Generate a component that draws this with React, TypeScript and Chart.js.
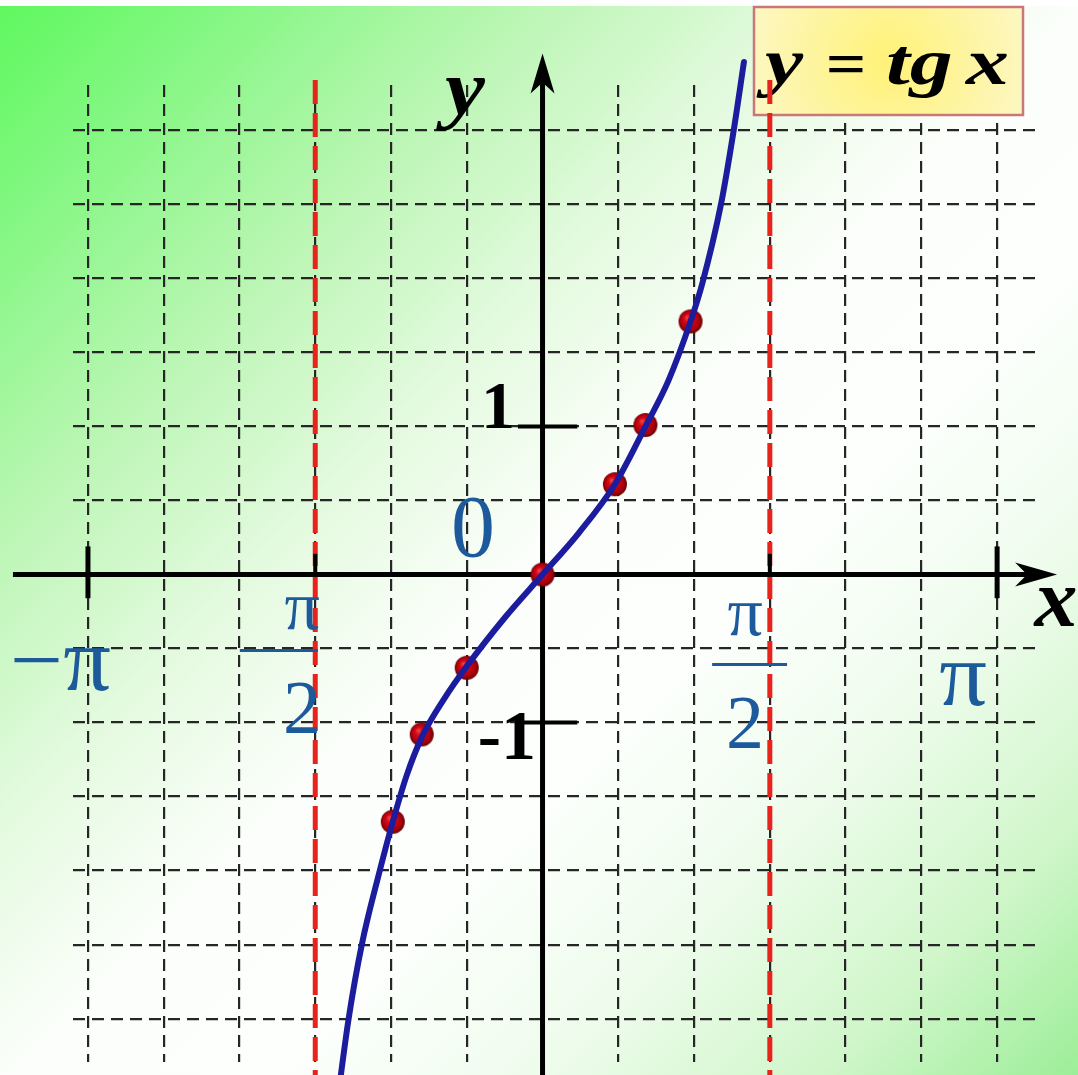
import React, { useEffect, useRef } from 'react';
import { Chart, registerables } from 'chart.js';

Chart.register(...registerables);

const CANVAS_W = 1078;
const CANVAS_H = 1075;

// Axis ranges: x in radians, y in function units
const X_MIN = -3.245;
const X_MAX = 3.438;
const Y_MIN = -3.293;
const Y_MAX = 3.307;

// Grid: every π/6 on x, every 0.5 on y
const xGridTicks = [-3.1416, -2.618, -2.0944, -1.5708, -1.0472, -0.5236, 0, 0.5236, 1.0472, 1.5708, 2.0944, 2.618, 3.1416];
const yGridTicks = [-3, -2.5, -2, -1.5, -1, -0.5, 0, 0.5, 1, 1.5, 2, 2.5, 3];

// The drawn curve y = tg x
const curveX = [-1.43, -1.34, -1.249, -1.13, -1.035, -0.94, -0.835, -0.68, -0.524, -0.26, 0, 0.25, 0.5, 0.711, 0.87, 1.023, 1.105, 1.233, 1.321, 1.392];
const curveY = [-3.65, -3.0, -2.5, -2.02, -1.67, -1.36, -1.10, -0.84, -0.62, -0.29, 0, 0.28, 0.61, 1.0, 1.31, 1.71, 1.97, 2.5, 3.0, 3.463];

// Marked points (−π/3, −π/4, −π/6, 0, π/6, π/4, π/3)
const markerX = [-1.035, -0.835, -0.524, 0, 0.5, 0.711, 1.023];
const markerY = [-1.67, -1.08, -0.63, 0, 0.61, 1.01, 1.71];

// Asymptotes and axis marks
const asymptoteX = [-1.5708, 1.5708];
const piMarksX = [-3.1416, 3.1416];
const halfPiMarksX = [-1.5708, 1.5708];
const unitMarksY = [1, -1];
const unitLabelsY = ['1', '-1'];

const TITLE_PARTS = ['y', '=', 'tg', 'x'];

const BLUE = '#1d5a9c';

function makeBall(r: number): HTMLCanvasElement {
  const c = document.createElement('canvas');
  c.width = r * 2 + 2;
  c.height = r * 2 + 2;
  const g = c.getContext('2d')!;
  const cx = r + 1;
  const cy = r + 1;
  const grad = g.createRadialGradient(cx - r * 0.3, cy - r * 0.35, r * 0.05, cx, cy, r);
  grad.addColorStop(0, '#f04040');
  grad.addColorStop(0.3, '#d40a16');
  grad.addColorStop(0.8, '#a8000c');
  grad.addColorStop(1, '#600000');
  g.fillStyle = grad;
  g.beginPath();
  g.arc(cx, cy, r, 0, Math.PI * 2);
  g.fill();
  return c;
}

export default function App() {
  const ref = useRef<HTMLCanvasElement>(null);

  useEffect(() => {
    document.body.style.margin = '0';
    const canvas = ref.current;
    if (!canvas) return;
    const ball = makeBall(12);

    const bgPlugin = {
      id: 'bg',
      beforeDraw(chart: any) {
        const { ctx, width, height } = chart;
        ctx.save();
        const g = ctx.createLinearGradient(0, 0, width, height);
        g.addColorStop(0, '#5ef85e');
        g.addColorStop(0.12, '#88f786');
        g.addColorStop(0.25, '#bbf6b4');
        g.addColorStop(0.38, '#e3fade');
        g.addColorStop(0.5, '#fbfefa');
        g.addColorStop(0.62, '#fdfffd');
        g.addColorStop(0.75, '#eefcec');
        g.addColorStop(0.88, '#d0f6ca');
        g.addColorStop(1, '#9cee98');
        ctx.fillStyle = g;
        ctx.fillRect(0, 0, width, height);
        ctx.fillStyle = '#ffffff';
        ctx.fillRect(0, 0, width, 6);
        ctx.restore();
      },
    };

    const stretchText = (ctx: CanvasRenderingContext2D, s: string, x: number, y: number, sx: number, align: CanvasTextAlign) => {
      ctx.save();
      ctx.translate(x, y);
      ctx.scale(sx, 1);
      ctx.textAlign = align;
      ctx.textBaseline = 'alphabetic';
      ctx.fillText(s, 0, 0);
      ctx.restore();
    };

    const decoPlugin = {
      id: 'deco',
      beforeDatasetsDraw(chart: any) {
        const { ctx } = chart;
        const sx = chart.scales.x;
        const sy = chart.scales.y;
        const px = (v: number) => sx.getPixelForValue(v);
        const py = (v: number) => sy.getPixelForValue(v);
        ctx.save();

        // Title box
        const bx = 754, by = 7, bw = 269, bh = 108;
        const tg = ctx.createRadialGradient(bx + bw * 0.5, by + bh * 0.5, 10, bx + bw * 0.5, by + bh * 0.5, bw * 0.6);
        tg.addColorStop(0, '#fff27c');
        tg.addColorStop(1, '#fcf8cc');
        ctx.fillStyle = tg;
        ctx.fillRect(bx, by, bw, bh);
        ctx.strokeStyle = '#c9787a';
        ctx.lineWidth = 2.5;
        ctx.strokeRect(bx, by, bw, bh);
        ctx.fillStyle = '#000';
        ctx.font = 'italic bold 66px "Liberation Serif"';
        stretchText(ctx, TITLE_PARTS[0], 765, 84, 1.3, 'left');
        ctx.font = 'bold 62px "Liberation Serif"';
        stretchText(ctx, TITLE_PARTS[1], 846, 84, 1.15, 'center');
        ctx.font = 'italic bold 66px "Liberation Serif"';
        stretchText(ctx, TITLE_PARTS[2], 886, 84, 1.3, 'left');
        stretchText(ctx, TITLE_PARTS[3], 966, 84, 1.3, 'left');

        // Asymptotes
        ctx.strokeStyle = '#e8231c';
        ctx.lineWidth = 5;
        ctx.setLineDash([24, 9]);
        asymptoteX.forEach((v) => {
          ctx.beginPath();
          ctx.moveTo(px(v), py(3.34));
          ctx.lineTo(px(v), py(Y_MIN - 0.2));
          ctx.stroke();
        });
        ctx.setLineDash([]);

        // Axes
        ctx.strokeStyle = '#000';
        ctx.fillStyle = '#000';
        ctx.lineWidth = 5;
        const x0 = px(0);
        const y0 = py(0);
        const xTip = px(3.556);
        ctx.beginPath();
        ctx.moveTo(px(-3.66), y0);
        ctx.lineTo(xTip - 25, y0);
        ctx.stroke();
        ctx.beginPath();
        ctx.moveTo(xTip, y0);
        ctx.lineTo(xTip - 42, y0 - 12);
        ctx.lineTo(xTip - 30, y0);
        ctx.lineTo(xTip - 42, y0 + 12);
        ctx.closePath();
        ctx.fill();

        const yTip = py(3.52);
        ctx.beginPath();
        ctx.moveTo(x0, py(Y_MIN - 0.2));
        ctx.lineTo(x0, yTip + 25);
        ctx.stroke();
        ctx.beginPath();
        ctx.moveTo(x0, yTip);
        ctx.lineTo(x0 - 12, yTip + 40);
        ctx.lineTo(x0, yTip + 29);
        ctx.lineTo(x0 + 12, yTip + 40);
        ctx.closePath();
        ctx.fill();

        // Marks on axes
        ctx.lineWidth = 5;
        piMarksX.forEach((v) => {
          ctx.beginPath();
          ctx.moveTo(px(v), py(0.19));
          ctx.lineTo(px(v), py(-0.16));
          ctx.stroke();
        });
        ctx.lineWidth = 4;
        halfPiMarksX.forEach((v) => {
          ctx.beginPath();
          ctx.moveTo(px(v), py(0.14));
          ctx.lineTo(px(v), py(0));
          ctx.stroke();
        });
        unitMarksY.forEach((v) => {
          ctx.beginPath();
          ctx.moveTo(px(-0.17), py(v));
          ctx.lineTo(px(0.24), py(v));
          ctx.stroke();
        });
        ctx.restore();
      },
      afterDatasetsDraw(chart: any) {
        const { ctx } = chart;
        const sx = chart.scales.x;
        const sy = chart.scales.y;
        const px = (v: number) => sx.getPixelForValue(v);
        const py = (v: number) => sy.getPixelForValue(v);
        const text = (s: string, x: number, y: number, font: string, color: string, align: CanvasTextAlign, stretch = 1) => {
          ctx.font = font;
          ctx.fillStyle = color;
          stretchText(ctx, s, px(x), py(y), stretch, align);
        };
        ctx.save();
        // Axis names
        text('y', -0.536, 3.11, 'italic bold 78px "Liberation Serif"', '#000', 'center', 1.15);
        text('x', 3.549, -0.347, 'italic bold 82px "Liberation Serif"', '#000', 'center', 1.05);
        // y unit labels
        text(unitLabelsY[0], -0.19, 0.987, 'bold 68px "Liberation Serif"', '#000', 'right');
        text(unitLabelsY[1], -0.045, -1.247, 'bold 70px "Liberation Serif"', '#000', 'right');
        // Origin
        text('0', -0.48, 0.127, '88px "Liberation Serif"', BLUE, 'center');
        // −π and π
        text('\u2212\u03c0', -3.68, -0.78, '90px "Liberation Serif"', BLUE, 'left', 1.05);
        text('\u03c0', 2.906, -0.88, '90px "Liberation Serif"', BLUE, 'center', 1.05);
        // −π/2
        text('\u03c0', -1.662, -0.367, '70px "Liberation Serif"', BLUE, 'center');
        text('2', -1.662, -1.073, '76px "Liberation Serif"', BLUE, 'center');
        // π/2
        text('\u03c0', 1.40, -0.407, '70px "Liberation Serif"', BLUE, 'center');
        text('2', 1.40, -1.173, '76px "Liberation Serif"', BLUE, 'center');
        ctx.strokeStyle = BLUE;
        ctx.lineWidth = 3;
        ctx.beginPath();
        ctx.moveTo(px(-2.092), py(-0.513));
        ctx.lineTo(px(-1.552), py(-0.513));
        ctx.stroke();
        ctx.beginPath();
        ctx.moveTo(px(1.172), py(-0.607));
        ctx.lineTo(px(1.69), py(-0.607));
        ctx.stroke();
        ctx.restore();
      },
    };

    const gridOpts = { color: '#262626', lineWidth: 2.2, drawTicks: false };
    const borderOpts = { display: false, dash: [12, 7] };

    const chart = new Chart(canvas, {
      type: 'scatter',
      data: {
        datasets: [
          {
            label: 'y = tg x',
            data: curveX.map((x, i) => ({ x, y: curveY[i] })),
            showLine: true,
            borderColor: '#1c1c9e',
            borderWidth: 6,
            pointRadius: 0,
            cubicInterpolationMode: 'monotone',
            capBezierPoints: false,
            borderCapStyle: 'round',
            clip: false,
          } as any,
          {
            label: 'points',
            data: markerX.map((x, i) => ({ x, y: markerY[i] })),
            showLine: false,
            pointStyle: ball,
            pointRadius: 12,
            clip: false,
          } as any,
        ],
      },
      options: {
        responsive: false,
        animation: false,
        events: [],
        layout: { padding: { left: 73, top: 85, right: 38, bottom: 0 } },
        plugins: { legend: { display: false }, tooltip: { enabled: false }, title: { display: false } },
        scales: {
          x: {
            type: 'linear',
            min: X_MIN,
            max: X_MAX,
            bounds: 'data',
            afterBuildTicks: (axis: any) => {
              axis.ticks = xGridTicks.map((v) => ({ value: v }));
            },
            ticks: { display: false },
            grid: gridOpts,
            border: borderOpts,
          },
          y: {
            type: 'linear',
            min: Y_MIN,
            max: Y_MAX,
            bounds: 'data',
            afterBuildTicks: (axis: any) => {
              axis.ticks = yGridTicks.map((v) => ({ value: v }));
            },
            ticks: { display: false },
            grid: gridOpts,
            border: borderOpts,
          },
        },
      } as any,
      plugins: [bgPlugin, decoPlugin],
    });

    return () => chart.destroy();
  }, []);

  return (
    <div style={{ position: 'fixed', left: 0, top: 0, width: CANVAS_W, height: CANVAS_H }}>
      <canvas ref={ref} width={CANVAS_W} height={CANVAS_H} style={{ width: CANVAS_W, height: CANVAS_H, display: 'block' }} />
    </div>
  );
}
